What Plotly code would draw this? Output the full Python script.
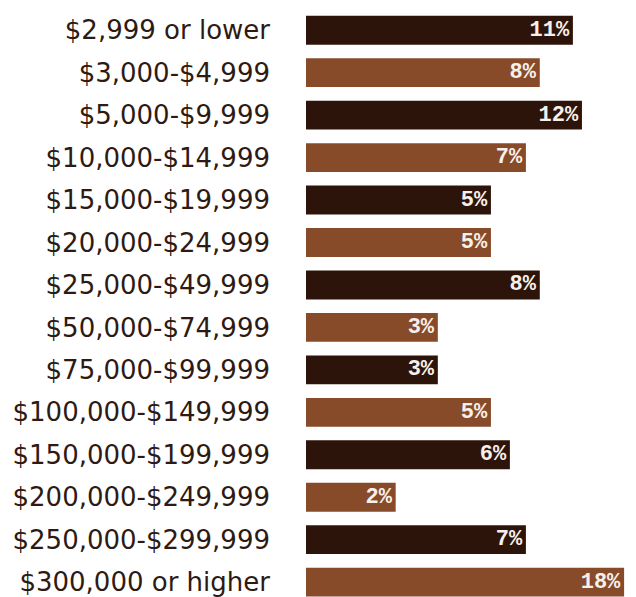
import plotly.graph_objects as go

categories = ["$2,999 or lower", "$3,000-$4,999", "$5,000-$9,999", "$10,000-$14,999",
              "$15,000-$19,999", "$20,000-$24,999", "$25,000-$49,999", "$50,000-$74,999",
              "$75,000-$99,999", "$100,000-$149,999", "$150,000-$199,999",
              "$200,000-$249,999", "$250,000-$299,999", "$300,000 or higher"]
values = [11, 8, 12, 7, 5, 5, 8, 3, 3, 5, 6, 2, 7, 18]
labels = [f"{v}%" for v in values]

dark = "#2D140B"
light = "#874B2A"
colors = [dark if i % 2 == 0 else light for i in range(len(values))]

fig = go.Figure(go.Bar(
    x=values, y=categories, orientation="h",
    marker=dict(color=colors, line=dict(width=0)),
    text=labels, textposition="inside", insidetextanchor="end", textangle=0,
    insidetextfont=dict(family="Liberation Mono, Cousine, Courier New, monospace", size=22,
                        color="#F7F0EA", weight="bold"),
    hoverinfo="skip", cliponaxis=False,
))

fig.update_layout(
    width=636, height=597,
    margin=dict(l=306, r=0, t=9, b=0),
    paper_bgcolor="white", plot_bgcolor="white",
    bargap=0.32, showlegend=False,
    uniformtext=dict(mode="show", minsize=22),
)
fig.update_xaxes(type="log", range=[-0.0736, 1.305], visible=False, fixedrange=True)
fig.update_yaxes(type="category", range=[13.35, -0.5], showgrid=False, zeroline=False,
                 showline=False, ticks="", ticklabelstandoff=35, automargin=False,
                 fixedrange=True,
                 tickfont=dict(family="DejaVu Sans", size=26, color="#2E1A12"))

fig.write_html("out.html", config={"displayModeBar": False, "staticPlot": True},
               post_script="document.body.style.margin='0';document.body.style.overflow='hidden';")
